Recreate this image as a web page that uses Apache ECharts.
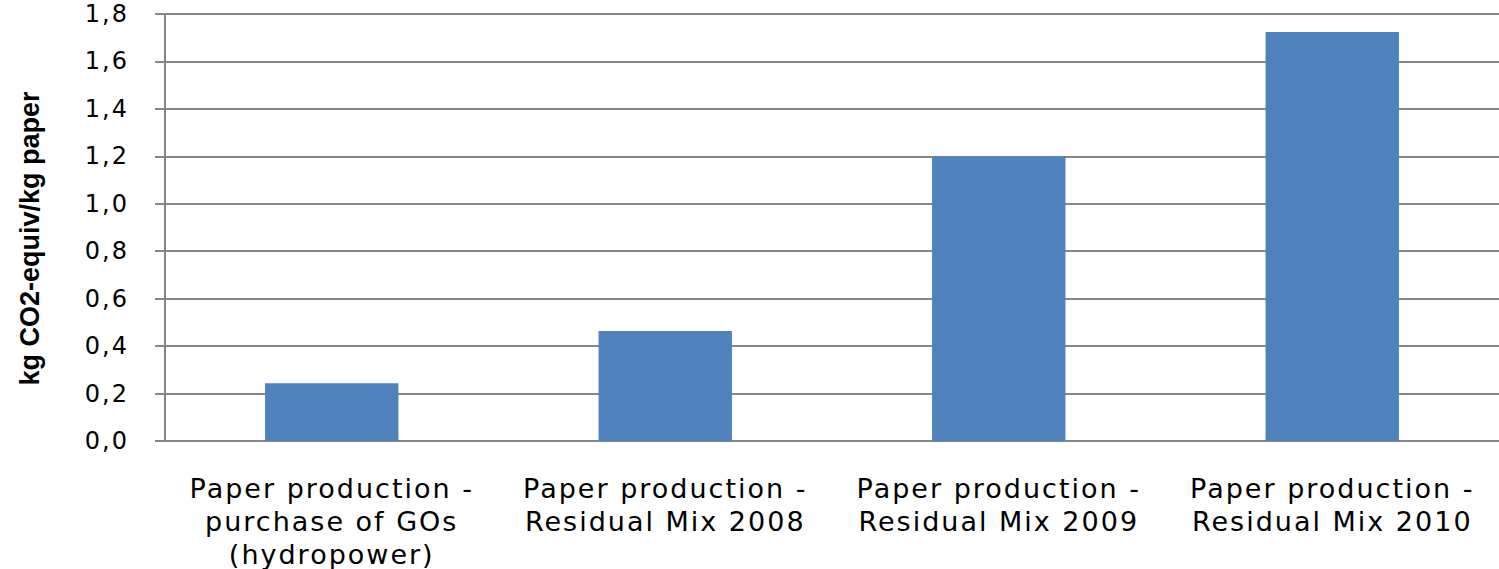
<!DOCTYPE html>
<html>
<head>
<meta charset="utf-8">
<script src="https://cdn.jsdelivr.net/npm/echarts@6/dist/echarts.min.js"></script>
<style>
  html, body { margin: 0; padding: 0; background: #fff; }
  #chart { width: 1499px; height: 569px; }
  /* the original labels are set wide, so open up the tick labels a bit */
  #chart text[style*="DejaVu"] { letter-spacing: 2px; }
</style>
</head>
<body>
<div id="chart"></div>
<script>
var categories = [
    'Paper production -\npurchase of GOs\n(hydropower)',
    'Paper production -\nResidual Mix 2008',
    'Paper production -\nResidual Mix 2009',
    'Paper production -\nResidual Mix 2010'
];
var values = [0.243, 0.464, 1.2, 1.724];
var yTicks = [0, 0.2, 0.4, 0.6, 0.8, 1.0, 1.2, 1.4, 1.6, 1.8];

var dom = document.getElementById('chart');
var myChart = echarts.init(dom, null, { renderer: 'svg' });

var option = {
    animation: false,
    grid: { left: 165, right: 0, top: 14, bottom: 128, outerBoundsMode: 'none', containLabel: false },
    xAxis: {
        type: 'category',
        data: categories,
        axisLine: { lineStyle: { color: '#868686', width: 2 } },
        axisTick: { alignWithLabel: false, length: 8, lineStyle: { color: '#868686', width: 2 } },
        axisLabel: {
            color: '#000',
            fontFamily: 'DejaVu Sans',
            fontSize: 27,
            lineHeight: 33,
            margin: 31,
            interval: 0
        }
    },
    yAxis: {
        type: 'value',
        min: yTicks[0],
        max: yTicks[yTicks.length - 1],
        interval: 0.2,
        name: 'kg CO2-equiv/kg paper',
        nameLocation: 'middle',
        nameRotate: 90,
        nameGap: 122,
        nameTextStyle: {
            color: '#000',
            fontFamily: 'Liberation Sans',
            fontWeight: 'bold',
            fontSize: 27,
            padding: [0, 22, 0, 0]   // nudge it a little lower, like the original
        },
        axisLine: { show: true, lineStyle: { color: '#868686', width: 2 } },
        axisTick: { show: true, length: 10, lineStyle: { color: '#868686', width: 2 } },
        splitLine: { lineStyle: { color: '#868686', width: 2 } },
        axisLabel: {
            color: '#000',
            fontFamily: 'DejaVu Sans',
            fontSize: 24,
            margin: 36,
            formatter: function (v) { return v.toFixed(1).replace('.', ','); }
        }
    },
    series: [{
        type: 'bar',
        data: values,
        barWidth: '40%',
        itemStyle: { color: '#4F81BD' }
    }]
};

myChart.setOption(option);
</script>
</body>
</html>
